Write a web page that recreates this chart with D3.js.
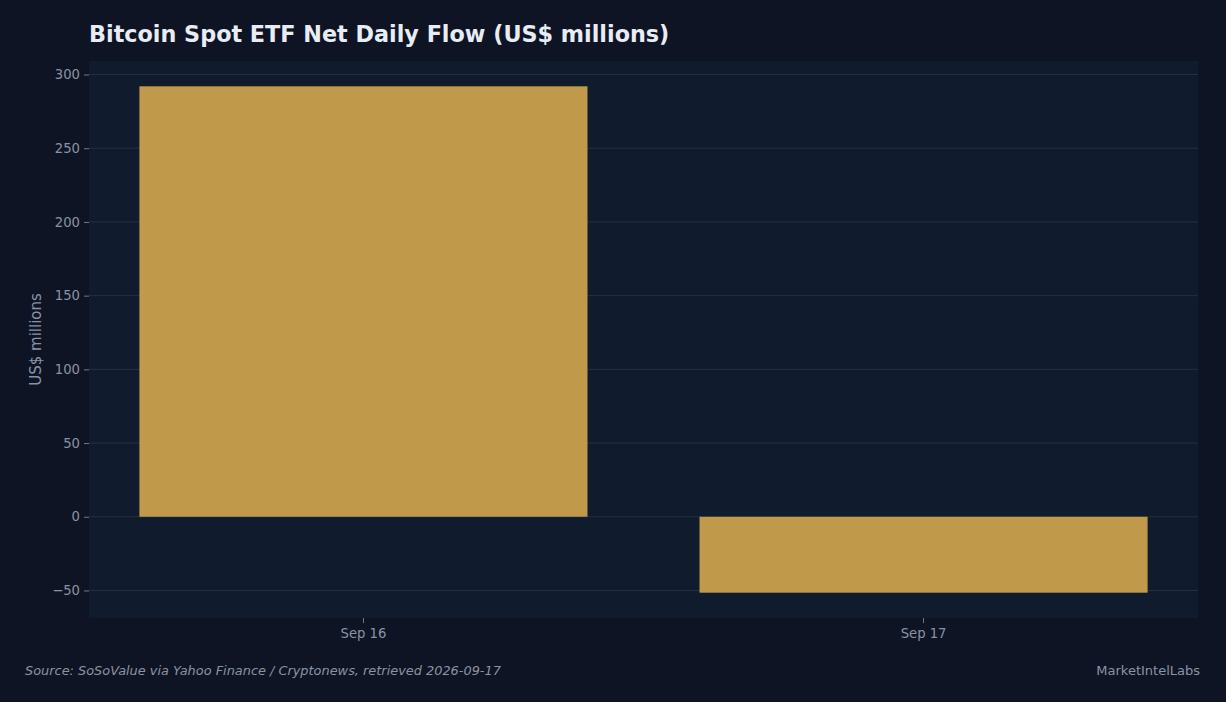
<!DOCTYPE html>
<html>
<head>
<meta charset="utf-8">
<script src="https://cdn.jsdelivr.net/npm/d3@7"></script>
<style>
  html, body { margin: 0; padding: 0; background: #0e1424; }
  svg { display: block; font-family: "DejaVu Sans", sans-serif; }
</style>
</head>
<body>
<svg id="chart" width="1226" height="702"></svg>
<script>
// data
let days = ["Sep 16", "Sep 17"];
let netFlow = [292, -51.5];
let yTicks = [-50, 0, 50, 100, 150, 200, 250, 300];

let width = 1226, height = 702;
let margins = { t: 61, r: 28, b: 84, l: 89 };

let svg = d3.select("#chart");

svg.append("rect").attr("width", width).attr("height", height).attr("fill", "#0e1424");

// plot background
svg.append("rect")
    .attr("x", margins.l).attr("y", margins.t)
    .attr("width", width - margins.l - margins.r)
    .attr("height", height - margins.t - margins.b)
    .attr("fill", "#111b2e");

let x = d3.scaleBand()
    .domain(days)
    .range([margins.l, width - margins.r])
    .paddingInner(0.2)
    .paddingOuter(0.09);

// matplotlib style 5% margins around the data range
let lo = d3.min(netFlow), hi = d3.max(netFlow);
let pad = (hi - lo) * 0.05;
let y = d3.scaleLinear()
    .domain([lo - pad, hi + pad])
    .range([height - margins.b, margins.t]);

// gridlines
svg.append("g")
    .selectAll("line")
    .data(yTicks)
    .join("line")
    .attr("x1", margins.l).attr("x2", width - margins.r)
    .attr("y1", d => y(d)).attr("y2", d => y(d))
    .attr("stroke", "#27324a").attr("stroke-width", 0.9);

// bars
svg.append("g")
    .selectAll("rect")
    .data(days)
    .join("rect")
    .attr("x", d => x(d))
    .attr("width", x.bandwidth())
    .attr("y", (d, i) => y(Math.max(0, netFlow[i])))
    .attr("height", (d, i) => Math.abs(y(netFlow[i]) - y(0)))
    .attr("fill", "#c09a4a");

// axes
let yAxis = svg.append("g")
    .attr("transform", `translate(${margins.l},0)`)
    .call(d3.axisLeft(y).tickValues(yTicks).tickSize(5).tickPadding(4)
        .tickFormat(d => d < 0 ? "\u2212" + Math.abs(d) : d));

let xAxis = svg.append("g")
    .attr("transform", `translate(0,${height - margins.b})`)
    .call(d3.axisBottom(x).tickSize(5).tickPadding(6));

[yAxis, xAxis].forEach(ax => {
    ax.select(".domain").remove();
    ax.selectAll(".tick line").attr("stroke", "#8a93a6").attr("stroke-width", 0.8);
    ax.selectAll(".tick text").attr("fill", "#8a93a6").attr("font-size", 13.2)
        .attr("font-family", "DejaVu Sans, sans-serif");
});

// y axis title
svg.append("text")
    .attr("transform", `translate(41,${(margins.t + height - margins.b) / 2}) rotate(-90)`)
    .attr("text-anchor", "middle")
    .attr("fill", "#8a93a6")
    .attr("font-size", 15)
    .text("US$ millions");

// title
svg.append("text")
    .attr("x", 89).attr("y", 42)
    .attr("fill", "#e8ecf5")
    .attr("font-size", 22.3)
    .attr("font-weight", "bold")
    .text("Bitcoin Spot ETF Net Daily Flow (US$ millions)");

// footer
svg.append("text")
    .attr("x", 25).attr("y", 675)
    .attr("fill", "#8a93a6")
    .attr("font-size", 12.9)
    .attr("font-style", "italic")
    .text("Source: SoSoValue via Yahoo Finance / Cryptonews, retrieved 2026-09-17");

svg.append("text")
    .attr("x", 1200).attr("y", 675)
    .attr("text-anchor", "end")
    .attr("fill", "#8a93a6")
    .attr("font-size", 13)
    .text("MarketIntelLabs");
</script>
</body>
</html>
